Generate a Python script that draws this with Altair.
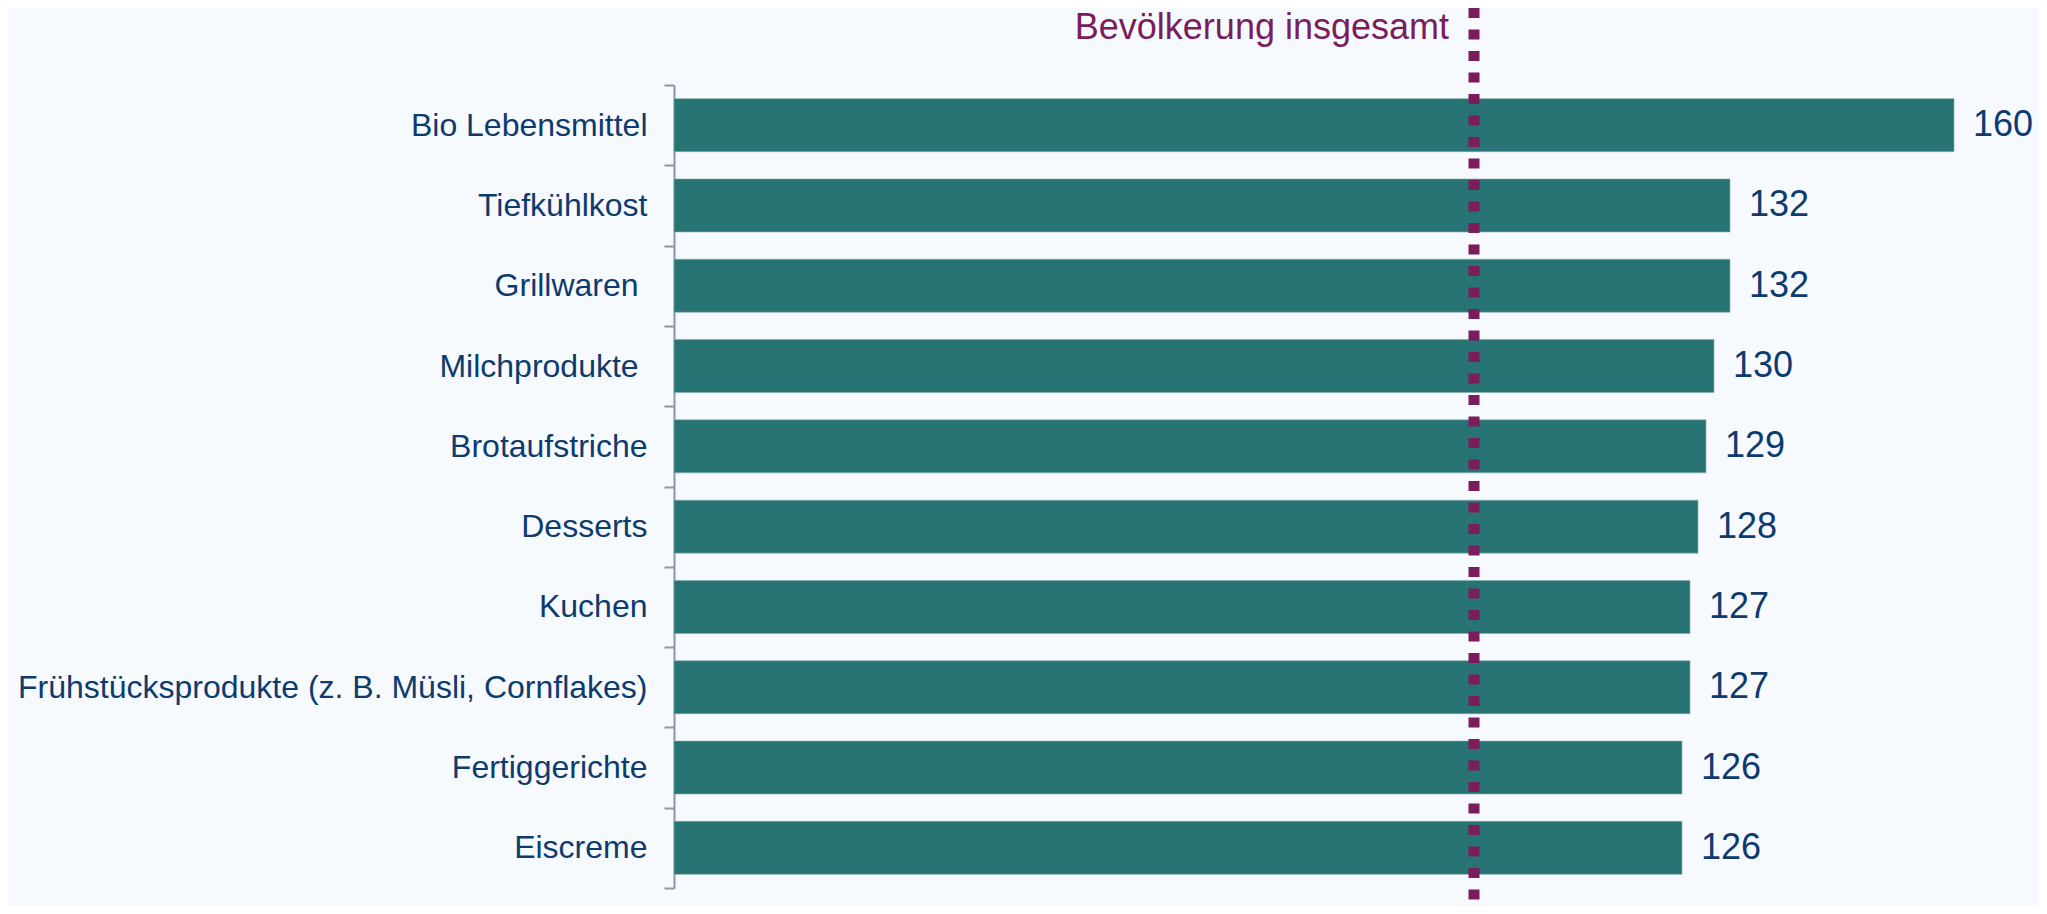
import altair as alt
import pandas as pd

# ---- data ----
categories = [
    "Bio Lebensmittel",
    "Tiefkühlkost",
    "Grillwaren\u00a0\u200b",
    "Milchprodukte\u00a0\u200b",
    "Brotaufstriche",
    "Desserts",
    "Kuchen",
    "Frühstücksprodukte (z. B. Müsli, Cornflakes)",
    "Fertiggerichte",
    "Eiscreme",
]
values = [160, 132, 132, 130, 129, 128, 127, 127, 126, 126]
reference_value = [100]
reference_label = ["Bevölkerung insgesamt"]

df = pd.DataFrame({"Kategorie": categories, "Wert": values})
ref_df = pd.DataFrame({"ref": reference_value, "label": reference_label})

FONT = "Liberation Sans"
BAR = "#287373"
NAVY = "#0D3B6E"
PURPLE = "#7B1C5C"
AXIS = "#8C94A8"
BG = "#F6F9FD"

xscale = alt.Scale(domain=[0, 170], nice=False, zero=True)

# axis-only layer: band scale without padding so ticks sit on the band boundaries
axis_layer = alt.Chart(df).mark_bar(opacity=0).encode(
    y=alt.Y(
        "Kategorie:N",
        sort=categories,
        scale=alt.Scale(paddingInner=0, paddingOuter=0),
        axis=alt.Axis(
            title=None,
            orient="left",
            tickBand="extent",
            labelFont=FONT,
            labelFontSize=32,
            labelColor=NAVY,
            labelPadding=17,
            labelLimit=0,
            tickSize=10,
            tickWidth=2,
            tickColor=AXIS,
            domainColor=AXIS,
            domainWidth=2,
            grid=False,
        ),
    ),
    x=alt.X("Wert:Q", scale=xscale, axis=None),
)

ybars = alt.Y(
    "Kategorie:N",
    sort=categories,
    scale=alt.Scale(paddingInner=0.34, paddingOuter=0.17),
    axis=None,
)

base = alt.Chart(df)

bars = base.mark_bar(color=BAR, stroke="#86AEAE", strokeWidth=1, strokeOpacity=0.6).encode(
    y=ybars,
    x=alt.X("Wert:Q", scale=xscale, axis=None),
)

labels = base.mark_text(
    align="left", baseline="middle", dx=19, fontSize=36, font=FONT, color=NAVY
).encode(
    y=ybars,
    x=alt.X("Wert:Q", scale=xscale, axis=None),
    text=alt.Text("Wert:Q"),
)

rule = alt.Chart(ref_df).mark_rule(
    color=PURPLE, strokeWidth=11, strokeDash=[10, 11.5], strokeCap="butt"
).encode(
    x=alt.X("ref:Q", scale=xscale, axis=None),
    y=alt.value(-77),
    y2=alt.value(821),
)

ref_text = alt.Chart(ref_df).mark_text(
    align="right", baseline="alphabetic", dx=-25, fontSize=36, font=FONT, color=PURPLE
).encode(
    x=alt.X("ref:Q", scale=xscale, axis=None),
    y=alt.value(-46),
    text="label:N",
)

data_layers = alt.layer(bars, labels, rule, ref_text)

chart = (
    alt.layer(axis_layer, data_layers)
    .resolve_scale(y="independent")
    .properties(
        width=1360,
        height=803,
        padding={"left": 666, "top": 77, "right": 5, "bottom": 18},
        autosize=alt.AutoSizeParams(type="none"),
        background=BG,
    )
    .configure_view(stroke=None)
)

chart.save("out.html", embed_options={"renderer": "svg", "actions": False})
